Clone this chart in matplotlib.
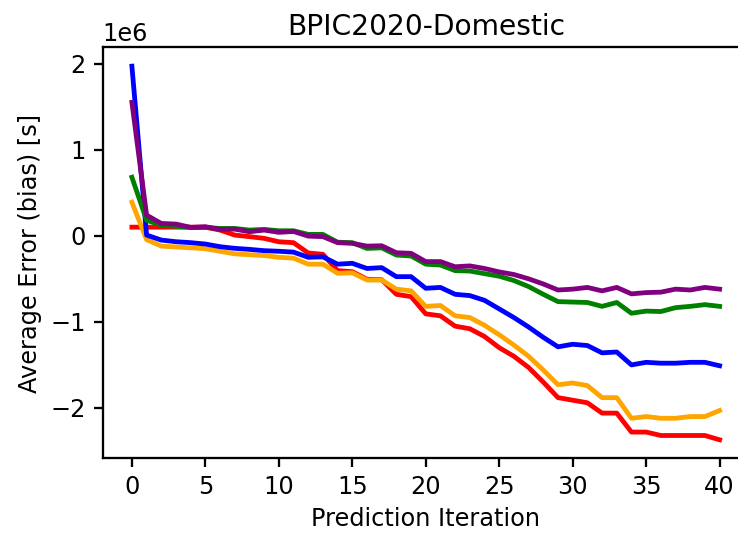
import numpy as np
import matplotlib
matplotlib.use("Agg")
import matplotlib.pyplot as plt

# Prediction iterations 0..40
iterations = list(range(41))

# Average error (bias) per series, in units of 1e6 seconds
red = [0.10, 0.10, 0.10, 0.10, 0.10, 0.10, 0.066, 0.008, -0.01, -0.03, -0.07,
       -0.08, -0.20, -0.215, -0.405, -0.417, -0.505, -0.51, -0.68, -0.707, -0.907,
       -0.93, -1.05, -1.08, -1.17, -1.30, -1.40, -1.53, -1.70, -1.88, -1.91,
       -1.94, -2.06, -2.06, -2.28, -2.28, -2.32, -2.32, -2.32, -2.32, -2.37]
orange = [0.39, -0.045, -0.12, -0.13, -0.14, -0.15, -0.18, -0.21, -0.22, -0.23, -0.25,
          -0.26, -0.33, -0.33, -0.436, -0.43, -0.514, -0.514, -0.62, -0.64, -0.82,
          -0.81, -0.93, -0.95, -1.04, -1.15, -1.27, -1.40, -1.56, -1.73, -1.71,
          -1.74, -1.88, -1.88, -2.12, -2.10, -2.12, -2.12, -2.10, -2.10, -2.03]
blue = [1.97, 0.008, -0.05, -0.069, -0.08, -0.096, -0.127, -0.146, -0.158, -0.173, -0.18,
        -0.19, -0.25, -0.245, -0.33, -0.32, -0.38, -0.37, -0.475, -0.475, -0.61,
        -0.60, -0.68, -0.695, -0.75, -0.85, -0.95, -1.06, -1.18, -1.29, -1.26,
        -1.275, -1.36, -1.35, -1.50, -1.47, -1.48, -1.48, -1.47, -1.47, -1.51]
green = [0.68, 0.18, 0.124, 0.11, 0.097, 0.097, 0.085, 0.085, 0.066, 0.074, 0.058,
         0.058, 0.016, 0.016, -0.075, -0.08, -0.147, -0.14, -0.224, -0.235, -0.33,
         -0.34, -0.405, -0.41, -0.44, -0.47, -0.52, -0.59, -0.68, -0.765, -0.77,
         -0.775, -0.82, -0.775, -0.90, -0.875, -0.88, -0.835, -0.82, -0.80, -0.82]
purple = [1.55, 0.24, 0.143, 0.136, 0.097, 0.105, 0.074, 0.077, 0.047, 0.066, 0.04,
          0.05, -0.004, -0.01, -0.08, -0.088, -0.12, -0.116, -0.197, -0.204, -0.30,
          -0.30, -0.36, -0.35, -0.38, -0.42, -0.45, -0.50, -0.56, -0.63, -0.62,
          -0.60, -0.64, -0.60, -0.675, -0.66, -0.655, -0.62, -0.63, -0.60, -0.62]

series = [(red, "red"), (orange, "orange"), (blue, "blue"), (green, "green"), (purple, "purple")]

fig = plt.figure(figsize=(738 / 150, 533 / 150), dpi=150)
# axes runs past the right edge like the cropped original
ax = fig.add_axes([0.1389, 0.1398, 0.876, 0.7711])

for values, color in series:
    ax.plot(iterations, np.array(values) * 1e6, color=color, linewidth=2.3)

ax.set_title("BPIC2020-Domestic", fontsize=13.5)
ax.set_xlabel("Prediction Iteration", fontsize=11.5)
ax.set_ylabel("Average Error (bias) [s]", fontsize=11.5)
ax.set_xticks(range(0, 41, 5))
ax.tick_params(labelsize=11.5, width=1.1, length=4.5)
ax.yaxis.get_offset_text().set_fontsize(11.5)
for spine in ax.spines.values():
    spine.set_linewidth(1.1)

fig.savefig("out.png", dpi=150)
